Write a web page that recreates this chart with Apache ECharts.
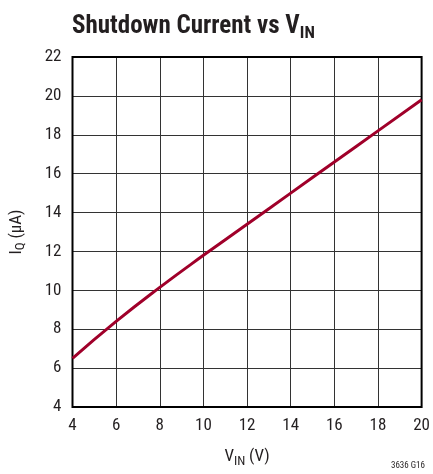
<!DOCTYPE html>
<html><head><meta charset="utf-8">
<script src="https://cdn.jsdelivr.net/npm/echarts@6/dist/echarts.min.js"></script>
<style>html,body{margin:0;padding:0;background:#fff}#c{width:433px;height:474px}</style>
</head><body><div id="c"></div>
<script>
const vin = [4, 6, 8, 10, 12, 14, 16, 18, 20];
const iq = [6.5, 8.4, 10.15, 11.8, 13.4, 15.0, 16.6, 18.2, 19.8];
const xTicks = [4, 20, 2];
const yTicks = [4, 22, 2];
const F = "'Liberation Sans Narrow','Arial Narrow','Roboto Condensed',sans-serif";
const chart = echarts.init(document.getElementById('c'));
chart.setOption({
  animation: false,
  title: {
    text: '{a|Shutdown Current vs V}{b|IN}',
    left: 67, top: 6,
    textStyle: {
      rich: {
        a: {fontFamily: F, fontWeight: 'bold', fontSize: 25, color: '#231f20', height: 30},
        b: {fontFamily: F, fontWeight: 'bold', fontSize: 17, color: '#231f20', padding: [14, 0, 0, 0]}
      }
    }
  },
  graphic: [{
    type: 'text', right: 8, top: 461,
    style: {text: '3636 G16', font: "9px " + F, fill: '#231f20'}
  }],
  grid: {left: 71, right: 10.5, top: 57, bottom: 67},
  xAxis: {
    type: 'value', min: xTicks[0], max: xTicks[1], interval: xTicks[2],
    name: '{a|V}{b|IN}{a| (V)}', nameLocation: 'middle', nameGap: 39,
    nameTextStyle: {rich: {
      a: {fontFamily: F, fontSize: 17, color: '#231f20'},
      b: {fontFamily: F, fontSize: 13, color: '#231f20', padding: [9, 0, 0, 0]}
    }},
    axisLine: {show: false}, axisTick: {show: false},
    axisLabel: {fontFamily: F, fontSize: 17, color: '#231f20', margin: 10},
    splitLine: {show: true, lineStyle: {color: '#333', width: 1}}
  },
  yAxis: {
    type: 'value', min: yTicks[0], max: yTicks[1], interval: yTicks[2],
    name: '{a|I}{b|Q}{a| (µA)}', nameLocation: 'middle', nameGap: 45, nameRotate: 90,
    nameTextStyle: {rich: {
      a: {fontFamily: F, fontSize: 17, color: '#231f20'},
      b: {fontFamily: F, fontSize: 13, color: '#231f20', padding: [9, 0, 0, 0]}
    }},
    axisLine: {show: false}, axisTick: {show: false},
    axisLabel: {fontFamily: F, fontSize: 17, color: '#231f20', margin: 11},
    splitLine: {show: true, lineStyle: {color: '#333', width: 1}}
  },
  series: [{
    type: 'line', data: vin.map((v, i) => [v, iq[i]]), showSymbol: false,
    smooth: true, lineStyle: {color: '#a0002a', width: 3}, z: 3
  }, {
    type: 'line', data: [], markArea: {silent: true, itemStyle: {color: 'transparent', borderColor: '#000', borderWidth: 2},
      data: [[{coord: [xTicks[0], yTicks[0]]}, {coord: [xTicks[1], yTicks[1]]}]]}
  }]
});
</script></body></html>
